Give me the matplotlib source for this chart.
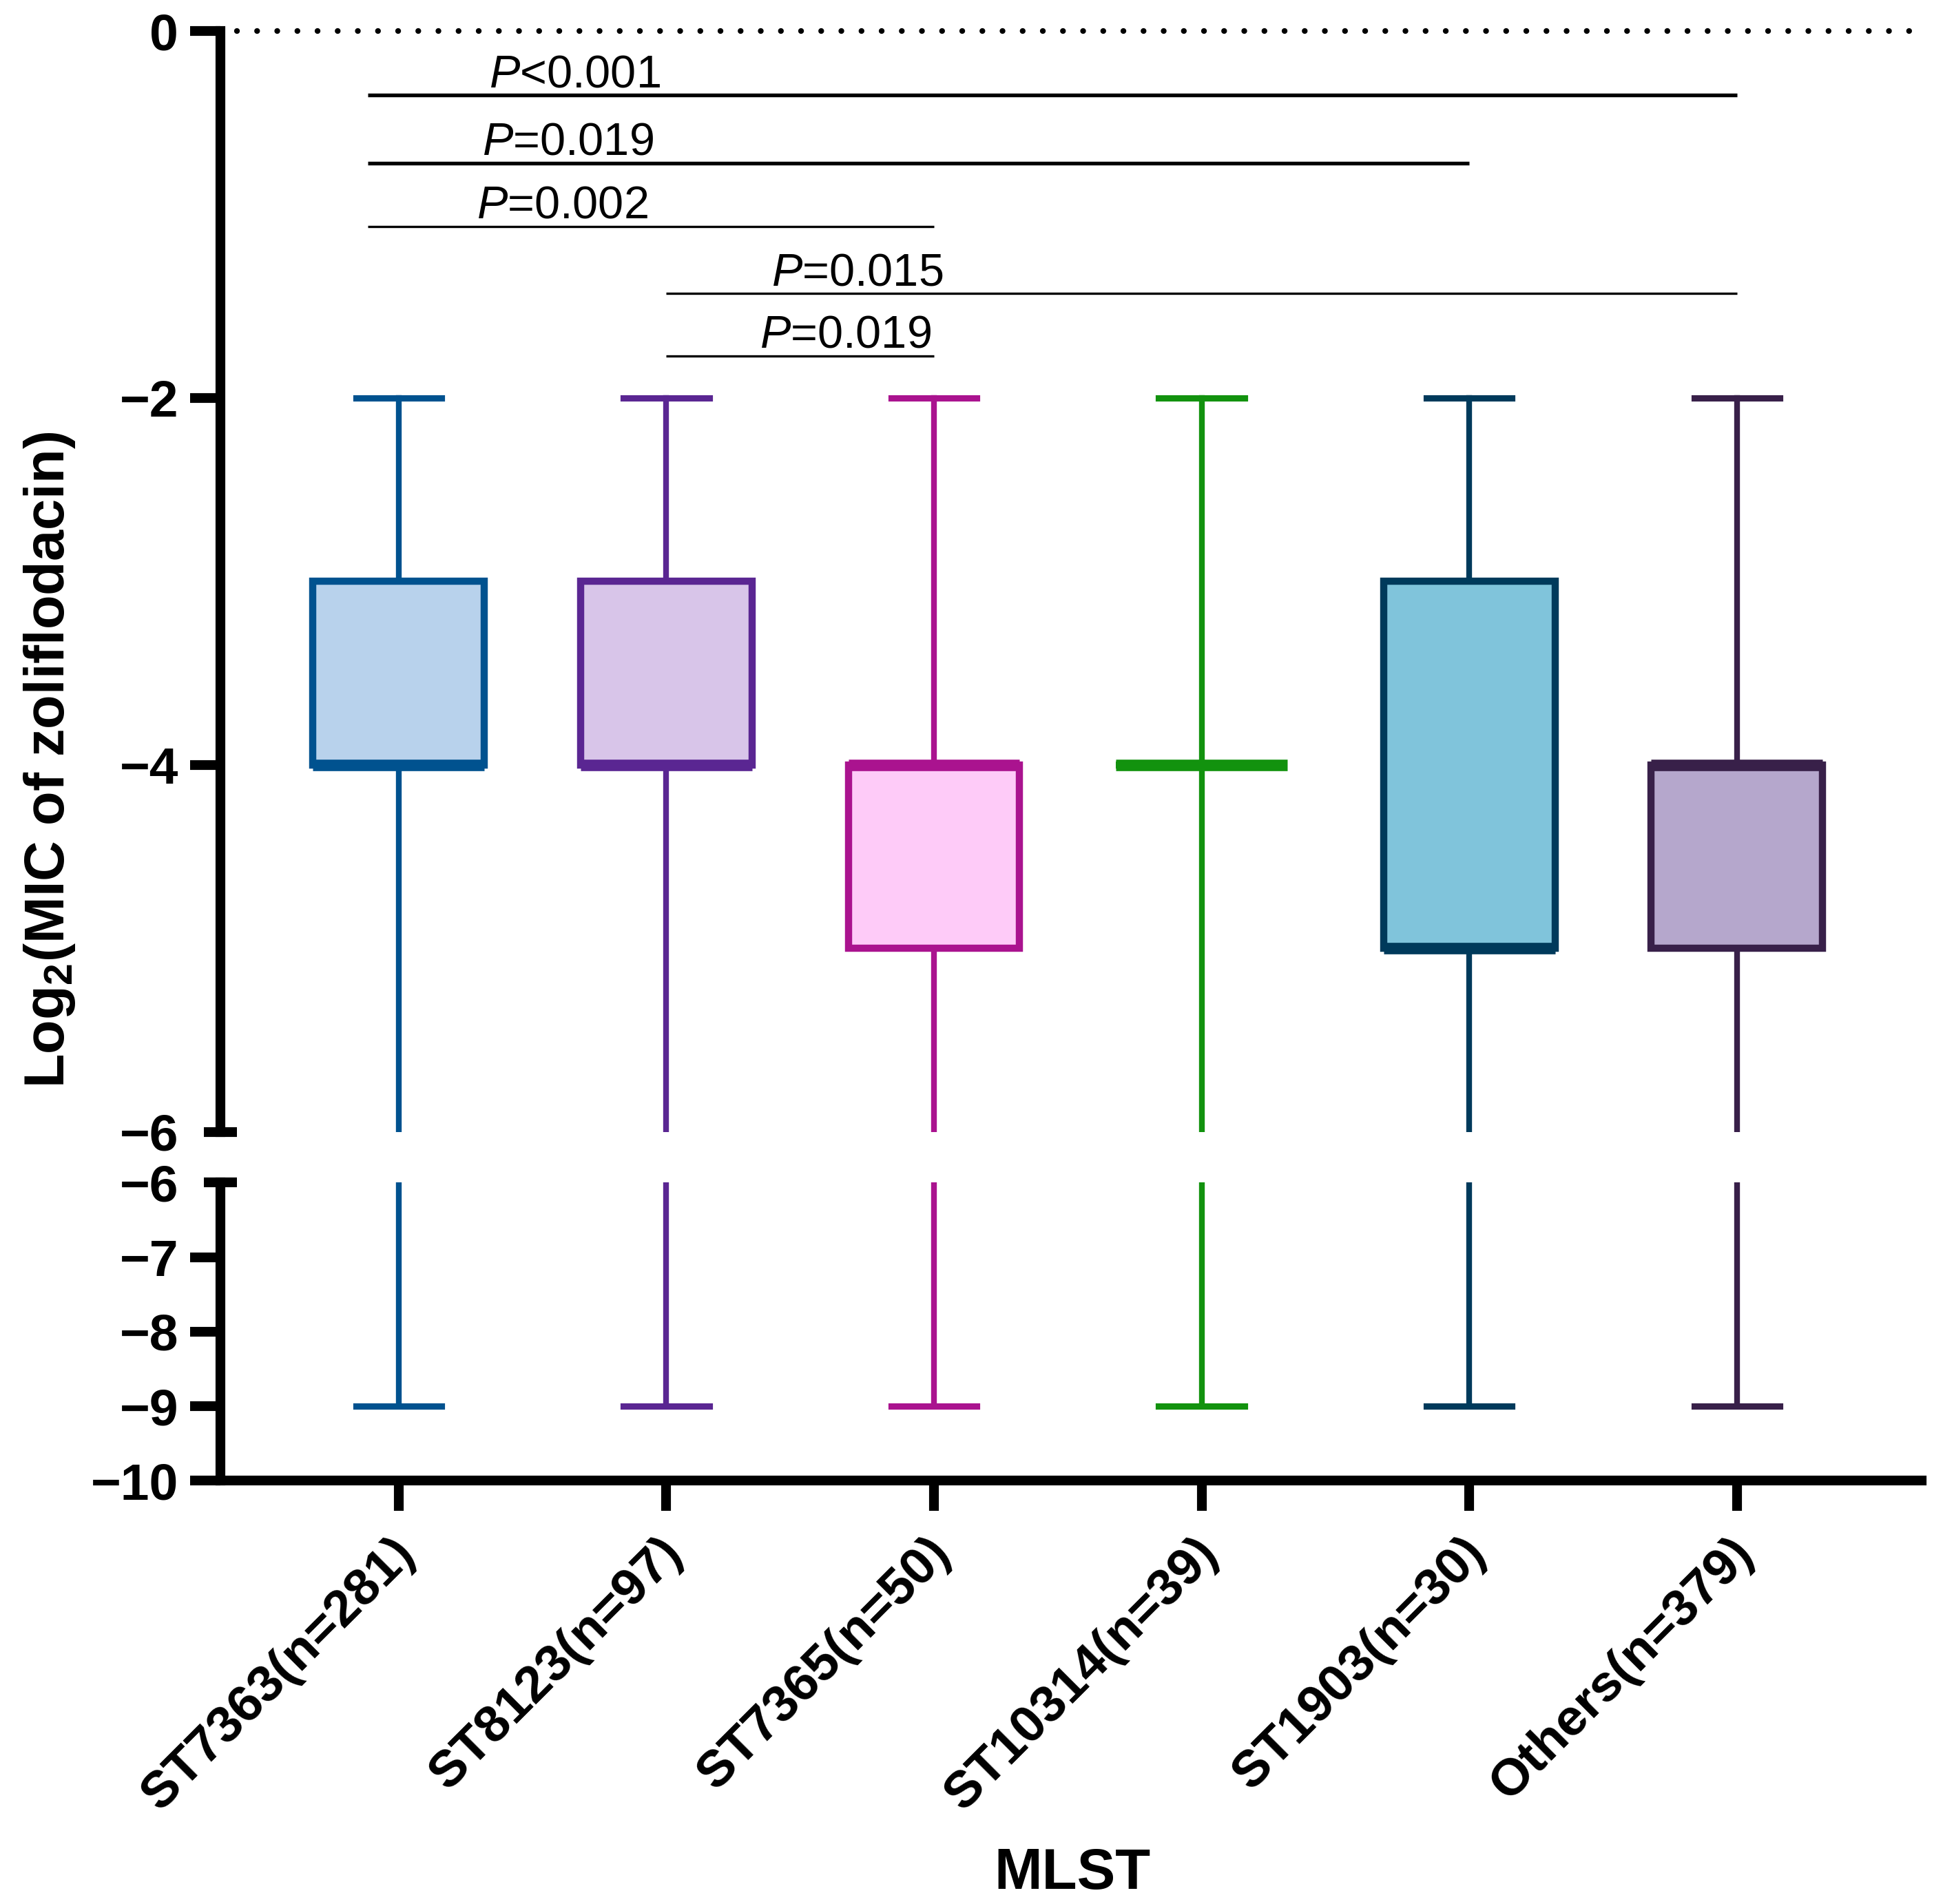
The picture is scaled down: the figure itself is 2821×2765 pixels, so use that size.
import numpy as np
import matplotlib
matplotlib.use("Agg")
import matplotlib.pyplot as plt
import matplotlib.transforms as mtrans

plt.rcParams['font.family'] = ['Liberation Sans', 'DejaVu Sans']
plt.rcParams['mathtext.fontset'] = 'custom'
plt.rcParams['mathtext.rm'] = 'Liberation Sans'
plt.rcParams['mathtext.it'] = 'Liberation Sans:italic'
plt.rcParams['mathtext.bf'] = 'Liberation Sans:bold'

# data (log2 MIC)
groups = ['ST7363(n=281)', 'ST8123(n=97)', 'ST7365(n=50)',
          'ST10314(n=39)', 'ST1903(n=30)', 'Others(n=379)']
whis_lo = [-9, -9, -9, -9, -9, -9]
q1 = [-4, -4, -5, -4, -5, -5]
med = [-4, -4, -4, -4, -5, -4]
q3 = [-3, -3, -4, -4, -3, -4]
whis_hi = [-2, -2, -2, -2, -2, -2]

edge_cols = ['#00528F', '#5A2692', '#AA138F', '#12920E', '#003A5B', '#382049']
fill_cols = ['#B8D2EC', '#D8C5E9', '#FECBF8', '#FFFFFF', '#80C4DB', '#B5A7CC']

# significance comparisons
pairs = [(0, 5), (0, 4), (0, 2), (1, 5), (1, 2)]
p_text = ['<0.001', '=0.019', '=0.002', '=0.015', '=0.019']
bar_y = [-0.35, -0.72, -1.065, -1.43, -1.77]
text_x = [0.657, 0.633, 0.612, 1.713, 1.668]
bar_lw = [1.3, 1.3, 0.8, 0.8, 0.8]

stats = []
for i in range(len(groups)):
    stats.append(dict(whislo=whis_lo[i], q1=q1[i], med=med[i], q3=q3[i],
                      whishi=whis_hi[i], label=groups[i]))

fig = plt.figure(figsize=(2821 / 300, 2765 / 300), dpi=300)
L, R = 0.1133, 0.989
ax_top = fig.add_axes([L, 0.4055, R - L, 0.9837 - 0.4055])
ax_bot = fig.add_axes([L, 0.2223, R - L, 0.3789 - 0.2223])

pos = np.arange(len(groups))
for ax in (ax_top, ax_bot):
    bp = ax.bxp(stats, positions=pos, widths=0.64, patch_artist=True,
                showfliers=False,
                boxprops=dict(linewidth=2.5),
                whiskerprops=dict(linewidth=2.0),
                capprops=dict(linewidth=2.2),
                medianprops=dict(linewidth=4.0, solid_capstyle='butt'))
    for i in range(len(groups)):
        bp['boxes'][i].set_facecolor(fill_cols[i])
        bp['boxes'][i].set_edgecolor(edge_cols[i])
        bp['medians'][i].set_color(edge_cols[i])
        for k in (2 * i, 2 * i + 1):
            bp['whiskers'][k].set_color(edge_cols[i])
            bp['caps'][k].set_color(edge_cols[i])
    ax.set_xlim(-0.667, 5.69)
    for s in ('top', 'right'):
        ax.spines[s].set_visible(False)
    for s in ('left', 'bottom'):
        ax.spines[s].set_linewidth(3.4)
        ax.spines[s].set_capstyle('projecting')
    ax.tick_params(axis='both', width=3.4, length=10.5, pad=4, labelsize=18)

ax_top.set_ylim(-6, 0)
ax_top.set_yticks([0, -2, -4, -6])
ax_top.spines['bottom'].set_visible(False)
ax_top.tick_params(axis='x', bottom=False, labelbottom=False)
ax_bot.set_ylim(-10, -6)
ax_bot.set_yticks([-6, -7, -8, -9, -10])
for ax in (ax_top, ax_bot):
    for lab in ax.get_yticklabels():
        lab.set_fontweight('bold')

# break caps at -6 (centered on the spine instead of outward ticks)
for ax in (ax_top, ax_bot):
    for t, loc in zip(ax.yaxis.get_major_ticks(), ax.get_yticks()):
        if loc == -6:
            t.tick1line.set_visible(False)
    tr = mtrans.blended_transform_factory(ax.transAxes, ax.transData)
    ax.plot([0], [-6], marker='_', ms=11.5, mew=3.4, color='black',
            transform=tr, clip_on=False)

ax_bot.set_xticks(pos)
ax_bot.set_xticklabels(groups, rotation=45, ha='right', va='center',
                       rotation_mode='anchor', fontsize=18, fontweight='bold')
ax_bot.tick_params(axis='x', pad=12)
shift = mtrans.ScaledTranslation(13 / 300, 0, fig.dpi_scale_trans)
for lab in ax_bot.get_xticklabels():
    lab.set_transform(lab.get_transform() + shift)

# dotted reference line at 0
ax_top.axhline(0, xmin=0.01, xmax=1.0, color='black', lw=2.0,
               ls=(0, (0.01, 3.5)), dash_capstyle='round', clip_on=False)

# significance bars
for k, (a, b) in enumerate(pairs):
    x0 = a - 0.115 if a == 0 else a
    ax_top.plot([x0, b], [bar_y[k], bar_y[k]], color='black', lw=bar_lw[k],
                solid_capstyle='butt')
    ax_top.text(text_x[k], bar_y[k] + 0.045, r'$\mathit{P}$' + p_text[k],
                ha='center', va='baseline', fontsize=16)

fig.text(0.0256, 0.601, r'Log$_\mathbf{2}$(MIC of zoliflodacin)',
         rotation=90, ha='center', va='center', fontsize=19.5, fontweight='bold')
fig.text(0.552, 0.016, 'MLST', ha='center', va='center', fontsize=20,
         fontweight='bold')

fig.savefig('out.png', dpi=300)
